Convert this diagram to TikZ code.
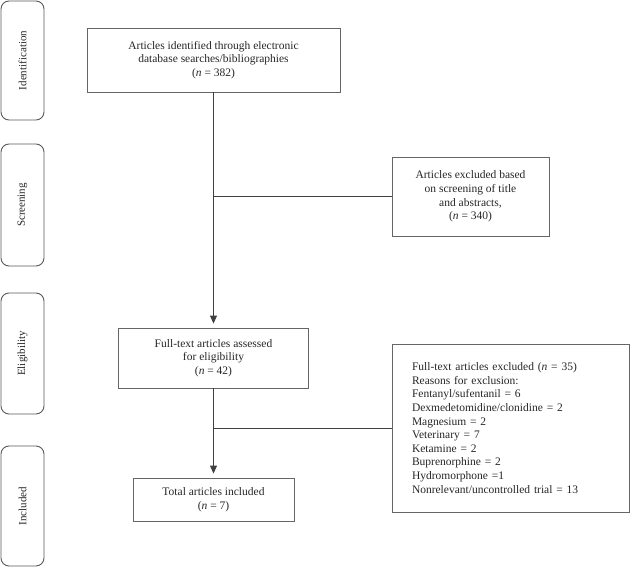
\documentclass[tikz,border=0pt]{standalone}
\usepackage{fontspec}
\setmainfont{Liberation Serif}
\usetikzlibrary{arrows.meta}
\begin{document}
\begin{tikzpicture}[x=1pt,y=-1pt,
  stage/.style={draw=black!65, line width=0.9pt, rounded corners=8pt, minimum width=43pt, inner sep=0pt},
  stagetext/.style={rotate=90, font=\fontsize{11}{12}\selectfont, text=black!85},
  flowbox/.style={draw=black!60, line width=0.9pt, align=center, inner sep=2pt, font=\fontsize{11.5}{13.6}\selectfont, text=black!85},
  link/.style={draw=black!75, line width=0.9pt},
  arr/.style={link, -{Triangle[width=7pt,length=8pt]}, shorten >=4pt}]
\useasboundingbox (0,0) rectangle (630,567);
% stage labels
\node[stage, minimum height=119pt] (sid) at (22.5,60.5) {};
\node[stagetext] (tid) at (sid) {Identification};
\node[stage, minimum height=122pt] (ssc) at (22.5,205) {};
\node[stagetext] (tsc) at (ssc) {Screening};
\node[stage, minimum height=121pt] (sel) at (22.5,353.5) {};
\node[stagetext] (tel) at (sel) {Eligibility};
\node[stage, minimum height=120pt] (sin) at (22.5,506) {};
\node[stagetext] (tin) at (sin) {Included};
% flow boxes
\node[flowbox, minimum width=253pt, minimum height=64pt] (box1) at (213.5,60)
  {Articles identified through electronic\\database searches/bibliographies\\(\textit{n} = 382)};
\node[flowbox, minimum width=157pt, minimum height=79pt] (excl1) at (470.5,196.5)
  {Articles excluded based\\on screening of title\\and abstracts,\\(\textit{n} = 340)};
\node[flowbox, minimum width=190pt, minimum height=60pt] (elig) at (213.5,358)
  {Full-text articles assessed\\for eligibility\\(\textit{n} = 42)};
\node[flowbox, minimum width=161pt, minimum height=43pt] (total) at (213.5,499.5)
  {Total articles included\\(\textit{n} = 7)};
\node[flowbox, minimum width=237pt, minimum height=168pt, align=left, text width=197pt, inner xsep=20pt, inner ysep=8pt] (excl2) at (510.5,428)
  {Full-text articles excluded (\textit{n} = 35)\\Reasons for exclusion:\\Fentanyl/sufentanil = 6\\Dexmedetomidine/clonidine = 2\\Magnesium = 2\\Veterinary = 7\\Ketamine = 2\\Buprenorphine = 2\\Hydromorphone =1\\Nonrelevant/uncontrolled trial = 13};
% connectors
\draw[arr] (box1.south) -- (box1.south |- elig.north);
\coordinate (j1) at (box1.south |- excl1.west);
\draw[link] (j1) -- (excl1.west);
\draw[arr] (elig.south) -- (elig.south |- total.north);
\coordinate (j2) at (elig.south |- excl2.west);
\draw[link] (j2) -- (excl2.west);
\end{tikzpicture}
\end{document}
